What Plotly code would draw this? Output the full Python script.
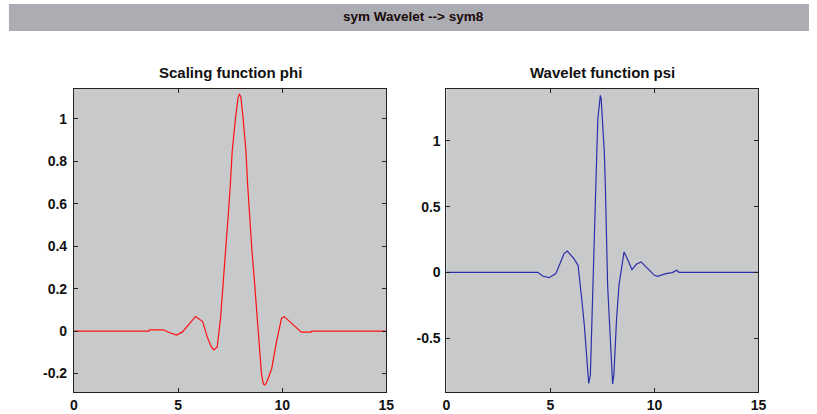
import plotly.graph_objects as go

# ---- data ----
phi_x = [0, 3.6, 3.62, 4.29, 4.6, 4.92, 5.2, 5.5, 5.84, 6.18, 6.42, 6.6, 6.72, 6.88, 6.94,
         7.04, 7.16, 7.29, 7.40, 7.51, 7.60, 7.76, 7.88, 7.95, 8.02, 8.12, 8.26, 8.34, 8.44,
         8.55, 8.68, 8.79, 8.90, 9.01, 9.10, 9.18, 9.28, 9.50, 9.73, 9.97, 10.10, 10.5,
         10.92, 11.39, 11.42, 15]
phi_y = [0, 0, 0.006, 0.006, -0.008, -0.019, -0.005, 0.03, 0.069, 0.045, -0.033, -0.075,
         -0.089, -0.075, -0.033, 0.061, 0.219, 0.376, 0.534, 0.691, 0.848, 1.006, 1.10, 1.117,
         1.10, 1.006, 0.848, 0.691, 0.534, 0.376, 0.219, 0.061, -0.096, -0.206, -0.25, -0.254,
         -0.235, -0.175, -0.049, 0.061, 0.068, 0.03, -0.005, -0.005, 0, 0]

psi_x = [0, 4.39, 4.65, 4.94, 5.26, 5.50, 5.65, 5.81, 5.95, 6.13, 6.33, 6.44, 6.52, 6.63,
         6.71, 6.76, 6.84, 6.92, 6.95, 7.00, 7.04, 7.07, 7.14, 7.19, 7.23, 7.28, 7.36, 7.40,
         7.44, 7.50, 7.59, 7.64, 7.67, 7.72, 7.75, 7.83, 7.90, 7.95, 7.99, 8.05, 8.10, 8.18,
         8.30, 8.42, 8.54, 8.73, 8.92, 9.13, 9.36, 9.68, 10.0, 10.15, 10.55, 10.86, 11.07,
         11.18, 15]
psi_y = [0, 0, -0.03, -0.041, -0.01, 0.079, 0.14, 0.162, 0.14, 0.104, 0.053, -0.09, -0.226,
         -0.403, -0.606, -0.73, -0.845, -0.78, -0.606, -0.353, -0.099, 0.155, 0.409, 0.662,
         0.916, 1.170, 1.33, 1.347, 1.32, 1.170, 0.916, 0.662, 0.409, 0.155, -0.099, -0.353,
         -0.606, -0.78, -0.85, -0.78, -0.606, -0.353, -0.09, 0.04, 0.155, 0.091, 0.020, 0.061,
         0.079, 0.028, -0.023, -0.030, -0.010, -0.002, 0.015, 0, 0]

x_ticks = [0, 5, 10, 15]
x_tick_labels = ["0", "5", "10", "15"]
phi_ticks = [-0.2, 0, 0.2, 0.4, 0.6, 0.8, 1]
phi_tick_labels = ["-0.2", "0", "0.2", "0.4", "0.6", "0.8", "1"]
psi_ticks = [-0.5, 0, 0.5, 1]
psi_tick_labels = ["-0.5", "0", "0.5", "1"]

main_title = "sym Wavelet --> sym8"
phi_title = "Scaling function phi"
psi_title = "Wavelet function psi"

W, H = 817, 414
def px(x):
    return x / W
def py(y):
    return 1 - y / H

fig = go.Figure()
fig.add_trace(go.Scatter(x=phi_x, y=phi_y, mode="lines", line=dict(color="#ff1010", width=1.2),
                         xaxis="x", yaxis="y", showlegend=False, hoverinfo="skip"))
fig.add_trace(go.Scatter(x=psi_x, y=psi_y, mode="lines", line=dict(color="#2a2eaa", width=1.2),
                         xaxis="x2", yaxis="y2", showlegend=False, hoverinfo="skip"))

tickfont = dict(family="Liberation Sans, Arial, sans-serif", size=14, color="#111111", weight="bold")
common = dict(showline=True, linecolor="#222222", linewidth=1, mirror="ticks", ticks="inside",
              ticklen=4, tickcolor="#222222", showgrid=False, zeroline=False, tickfont=tickfont)

y_top, y_bot = 88.5, 392
fig.update_layout(
    width=W, height=H,
    margin=dict(l=0, r=0, t=0, b=0),
    paper_bgcolor="white",
    plot_bgcolor="#c8c9cb",
    xaxis=dict(domain=[px(71), px(388)], range=[0, 15], tickvals=x_ticks, ticktext=x_tick_labels,
               anchor="y", **common),
    yaxis=dict(domain=[py(y_bot), py(y_top)], range=[-0.287, 1.143], tickvals=phi_ticks,
               ticktext=phi_tick_labels, anchor="x", ticklabelstandoff=3, **common),
    xaxis2=dict(domain=[px(449), px(765.7)], range=[0, 15], tickvals=x_ticks, ticktext=x_tick_labels,
                anchor="y2", **common),
    yaxis2=dict(domain=[py(y_bot), py(y_top)], range=[-0.911, 1.399], tickvals=psi_ticks,
                ticktext=psi_tick_labels, anchor="x2", ticklabelstandoff=2, **common),
    shapes=[dict(type="rect", xref="paper", yref="paper", x0=px(5), x1=1, y0=py(31), y1=py(4),
                 fillcolor="#acadb2", line=dict(width=0), layer="below")],
    annotations=[
        dict(text="<b>" + main_title + "</b>", xref="paper", yref="paper", x=px(416), y=py(17),
             showarrow=False, xanchor="center", yanchor="middle",
             font=dict(family="Liberation Sans, Arial", size=13.5, color="#1a0a0a")),
        dict(text="<b>" + phi_title + "</b>", xref="paper", yref="paper", x=px(229.5), y=py(72),
             showarrow=False, xanchor="center", yanchor="middle",
             font=dict(family="Liberation Sans, Arial", size=15, color="#111111")),
        dict(text="<b>" + psi_title + "</b>", xref="paper", yref="paper", x=px(607), y=py(72),
             showarrow=False, xanchor="center", yanchor="middle",
             font=dict(family="Liberation Sans, Arial", size=15, color="#111111")),
    ],
)

fig.write_html(
    "out.html",
    config={"displayModeBar": False},
    post_script="document.body.style.margin='0';document.body.style.overflow='hidden';"
                "document.documentElement.style.overflow='hidden';",
)
